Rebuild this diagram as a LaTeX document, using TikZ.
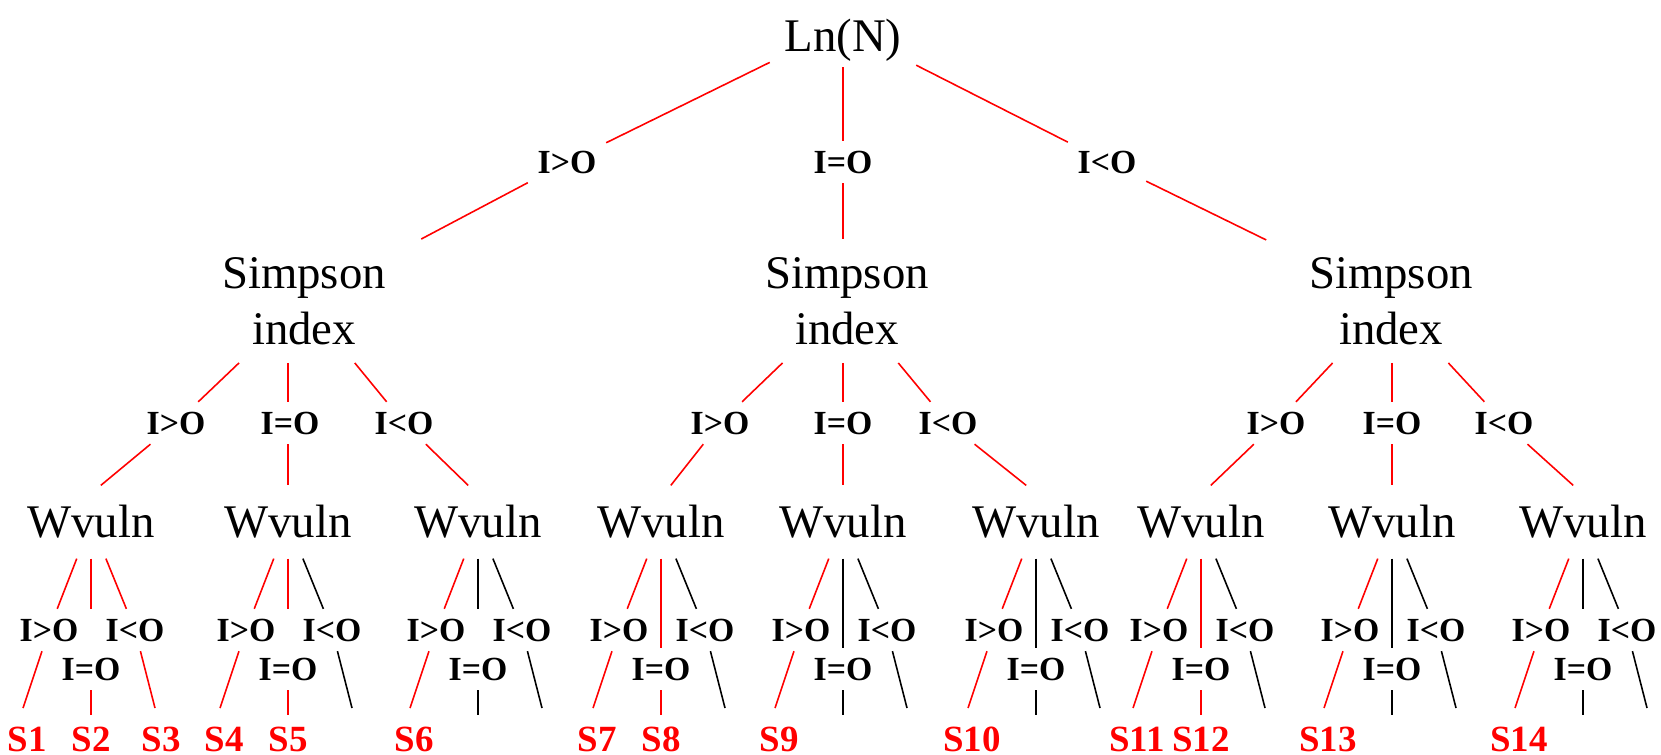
\documentclass[tikz,border=0pt]{standalone}
\usepackage{fontspec}
\setmainfont{Liberation Serif}
\usepackage{tikz}
\usetikzlibrary{calc}
\tikzstyle{selected}=[draw=red, line width=0.45pt]
\tikzstyle{unselected}=[draw=black, line width=0.45pt]
\tikzstyle{root}=[font=\fontsize{13.3}{16}\selectfont, inner xsep=4pt, inner ysep=1.5pt]
\tikzstyle{simpson}=[font=\fontsize{13.3}{15.9}\selectfont, align=center, inner xsep=12pt, inner ysep=5pt]
\tikzstyle{wvuln}=[font=\fontsize{13.3}{16}\selectfont, inner xsep=3pt, inner ysep=5.5pt]
\tikzstyle{cond}=[font=\fontsize{9.6}{11}\selectfont\bfseries, inner sep=2.6pt]
\tikzstyle{leaf}=[font=\fontsize{10.5}{12}\selectfont\bfseries, text=red, inner sep=0pt]

\begin{document}
\begin{tikzpicture}[x=0.01cm, y=-0.01cm]
	\useasboundingbox (0,0) rectangle (1661,755);
	% top levels
	\node[root] (lnn) at (843,40) {Ln(N)};
	\node[cond] (c1) at (567,162) {I>O};
	\node[cond] (c2) at (843,162) {I=O};
	\node[cond] (c3) at (1107,162) {I<O};
	\node[simpson] (s1) at (304,301) {Simpson\\index};
	\node[simpson] (s2) at (847,301) {Simpson\\index};
	\node[simpson] (s3) at (1391,301) {Simpson\\index};
	\draw[selected] (lnn.197) -- (c1) -- (s1);
	\draw[selected] (lnn) -- (c2) -- (s2.north -| c2);
	\draw[selected] (lnn.341) -- (c3) -- (s3);
	\node[cond] (s1a) at (176,423) {I>O};
	\node[cond] (s1b) at (290,423) {I=O};
	\node[cond] (s1c) at (404,423) {I<O};
	\node[cond] (s2a) at (720,423) {I>O};
	\node[cond] (s2b) at (843,423) {I=O};
	\node[cond] (s2c) at (948,423) {I<O};
	\node[cond] (s3a) at (1276,423) {I>O};
	\node[cond] (s3b) at (1392,423) {I=O};
	\node[cond] (s3c) at (1504,423) {I<O};
	\node[wvuln] (w1) at (91,522) {Wvuln};
	\node[wvuln] (w2) at (288,522) {Wvuln};
	\node[wvuln] (w3) at (478,522) {Wvuln};
	\node[wvuln] (w4) at (661,522) {Wvuln};
	\node[wvuln] (w5) at (843,522) {Wvuln};
	\node[wvuln] (w6) at (1036,522) {Wvuln};
	\node[wvuln] (w7) at (1201,522) {Wvuln};
	\node[wvuln] (w8) at (1392,522) {Wvuln};
	\node[wvuln] (w9) at (1583,522) {Wvuln};
	\draw[selected] (s1) -- (s1a) -- (w1.75);
	\draw[selected] (s1.south -| w2) -- (s1b.north -| w2);
	\draw[selected] (s1b.south -| w2) -- (w2);
	\draw[selected] (s1) -- (s1c) -- (w3.105);
	\draw[selected] (s2) -- (s2a) -- (w4.75);
	\draw[selected] (s2.south -| s2b) -- (s2b) -- (w5);
	\draw[selected] (s2) -- (s2c) -- (w6.105);
	\draw[selected] (s3) -- (s3a) -- (w7.75);
	\draw[selected] (s3.south -| s3b) -- (s3b) -- (w8);
	\draw[selected] (s3) -- (s3c) -- (w9.105);
	% Wvuln 1
	\node[cond] (w1a) at ($(w1)+(-42,108)$) {I>O};
	\node[cond] (w1b) at ($(w1)+(0,147)$) {I=O};
	\node[cond] (w1c) at ($(w1)+(44,108)$) {I<O};
	\coordinate (w1l) at ($(w1)+(-68,186)$);
	\coordinate (w1m) at ($(w1)+(0,193)$);
	\coordinate (w1r) at ($(w1)+(64,186)$);
	\coordinate (w1t) at ($(w1)+(0,87)$);
	\draw[selected] (w1) -- (w1a) -- (w1l);
	\draw[selected] (w1) -- (w1t);
	\draw[selected] (w1b) -- (w1m);
	\draw[selected] (w1) -- (w1c) -- (w1r);
	\node[leaf] (S1) at ($(w1l)+(4,31)$) {S1};
	\node[leaf] (S2) at ($(w1m)+(0,24)$) {S2};
	\node[leaf] (S3) at ($(w1r)+(6,31)$) {S3};
	% Wvuln 2
	\node[cond] (w2a) at ($(w2)+(-42,108)$) {I>O};
	\node[cond] (w2b) at ($(w2)+(0,147)$) {I=O};
	\node[cond] (w2c) at ($(w2)+(44,108)$) {I<O};
	\coordinate (w2l) at ($(w2)+(-68,186)$);
	\coordinate (w2m) at ($(w2)+(0,193)$);
	\coordinate (w2r) at ($(w2)+(64,186)$);
	\coordinate (w2t) at ($(w2)+(0,87)$);
	\draw[selected] (w2) -- (w2a) -- (w2l);
	\draw[selected] (w2) -- (w2t);
	\draw[selected] (w2b) -- (w2m);
	\draw[unselected] (w2) -- (w2c) -- (w2r);
	\node[leaf] (S4) at ($(w2l)+(4,31)$) {S4};
	\node[leaf] (S5) at ($(w2m)+(0,24)$) {S5};
	% Wvuln 3
	\node[cond] (w3a) at ($(w3)+(-42,108)$) {I>O};
	\node[cond] (w3b) at ($(w3)+(0,147)$) {I=O};
	\node[cond] (w3c) at ($(w3)+(44,108)$) {I<O};
	\coordinate (w3l) at ($(w3)+(-68,186)$);
	\coordinate (w3m) at ($(w3)+(0,193)$);
	\coordinate (w3r) at ($(w3)+(64,186)$);
	\coordinate (w3t) at ($(w3)+(0,87)$);
	\draw[selected] (w3) -- (w3a) -- (w3l);
	\draw[unselected] (w3) -- (w3t);
	\draw[unselected] (w3b) -- (w3m);
	\draw[unselected] (w3) -- (w3c) -- (w3r);
	\node[leaf] (S6) at ($(w3l)+(4,31)$) {S6};
	% Wvuln 4
	\node[cond] (w4a) at ($(w4)+(-42,108)$) {I>O};
	\node[cond] (w4b) at ($(w4)+(0,147)$) {I=O};
	\node[cond] (w4c) at ($(w4)+(44,108)$) {I<O};
	\coordinate (w4l) at ($(w4)+(-68,186)$);
	\coordinate (w4m) at ($(w4)+(0,193)$);
	\coordinate (w4r) at ($(w4)+(64,186)$);
	\draw[selected] (w4) -- (w4a) -- (w4l);
	\draw[selected] (w4) -- (w4b) -- (w4m);
	\draw[unselected] (w4) -- (w4c) -- (w4r);
	\node[leaf] (S7) at ($(w4l)+(4,31)$) {S7};
	\node[leaf] (S8) at ($(w4m)+(0,24)$) {S8};
	% Wvuln 5
	\node[cond] (w5a) at ($(w5)+(-42,108)$) {I>O};
	\node[cond] (w5b) at ($(w5)+(0,147)$) {I=O};
	\node[cond] (w5c) at ($(w5)+(44,108)$) {I<O};
	\coordinate (w5l) at ($(w5)+(-68,186)$);
	\coordinate (w5m) at ($(w5)+(0,193)$);
	\coordinate (w5r) at ($(w5)+(64,186)$);
	\draw[selected] (w5) -- (w5a) -- (w5l);
	\draw[unselected] (w5) -- (w5b) -- (w5m);
	\draw[unselected] (w5) -- (w5c) -- (w5r);
	\node[leaf] (S9) at ($(w5l)+(4,31)$) {S9};
	% Wvuln 6
	\node[cond] (w6a) at ($(w6)+(-42,108)$) {I>O};
	\node[cond] (w6b) at ($(w6)+(0,147)$) {I=O};
	\node[cond] (w6c) at ($(w6)+(44,108)$) {I<O};
	\coordinate (w6l) at ($(w6)+(-68,186)$);
	\coordinate (w6m) at ($(w6)+(0,193)$);
	\coordinate (w6r) at ($(w6)+(64,186)$);
	\draw[selected] (w6) -- (w6a) -- (w6l);
	\draw[unselected] (w6) -- (w6b) -- (w6m);
	\draw[unselected] (w6) -- (w6c) -- (w6r);
	\node[leaf] (S10) at ($(w6l)+(4,31)$) {S10};
	% Wvuln 7
	\node[cond] (w7a) at ($(w7)+(-42,108)$) {I>O};
	\node[cond] (w7b) at ($(w7)+(0,147)$) {I=O};
	\node[cond] (w7c) at ($(w7)+(44,108)$) {I<O};
	\coordinate (w7l) at ($(w7)+(-68,186)$);
	\coordinate (w7m) at ($(w7)+(0,193)$);
	\coordinate (w7r) at ($(w7)+(64,186)$);
	\draw[selected] (w7) -- (w7a) -- (w7l);
	\draw[selected] (w7) -- (w7b) -- (w7m);
	\draw[unselected] (w7) -- (w7c) -- (w7r);
	\node[leaf] (S11) at ($(w7l)+(4,31)$) {S11};
	\node[leaf] (S12) at ($(w7m)+(0,24)$) {S12};
	% Wvuln 8
	\node[cond] (w8a) at ($(w8)+(-42,108)$) {I>O};
	\node[cond] (w8b) at ($(w8)+(0,147)$) {I=O};
	\node[cond] (w8c) at ($(w8)+(44,108)$) {I<O};
	\coordinate (w8l) at ($(w8)+(-68,186)$);
	\coordinate (w8m) at ($(w8)+(0,193)$);
	\coordinate (w8r) at ($(w8)+(64,186)$);
	\draw[selected] (w8) -- (w8a) -- (w8l);
	\draw[unselected] (w8) -- (w8b) -- (w8m);
	\draw[unselected] (w8) -- (w8c) -- (w8r);
	\node[leaf] (S13) at ($(w8l)+(4,31)$) {S13};
	% Wvuln 9
	\node[cond] (w9a) at ($(w9)+(-42,108)$) {I>O};
	\node[cond] (w9b) at ($(w9)+(0,147)$) {I=O};
	\node[cond] (w9c) at ($(w9)+(44,108)$) {I<O};
	\coordinate (w9l) at ($(w9)+(-68,186)$);
	\coordinate (w9m) at ($(w9)+(0,193)$);
	\coordinate (w9r) at ($(w9)+(64,186)$);
	\coordinate (w9t) at ($(w9)+(0,87)$);
	\draw[selected] (w9) -- (w9a) -- (w9l);
	\draw[unselected] (w9) -- (w9t);
	\draw[unselected] (w9b) -- (w9m);
	\draw[unselected] (w9) -- (w9c) -- (w9r);
	\node[leaf] (S14) at ($(w9l)+(4,31)$) {S14};
\end{tikzpicture}
\end{document}
